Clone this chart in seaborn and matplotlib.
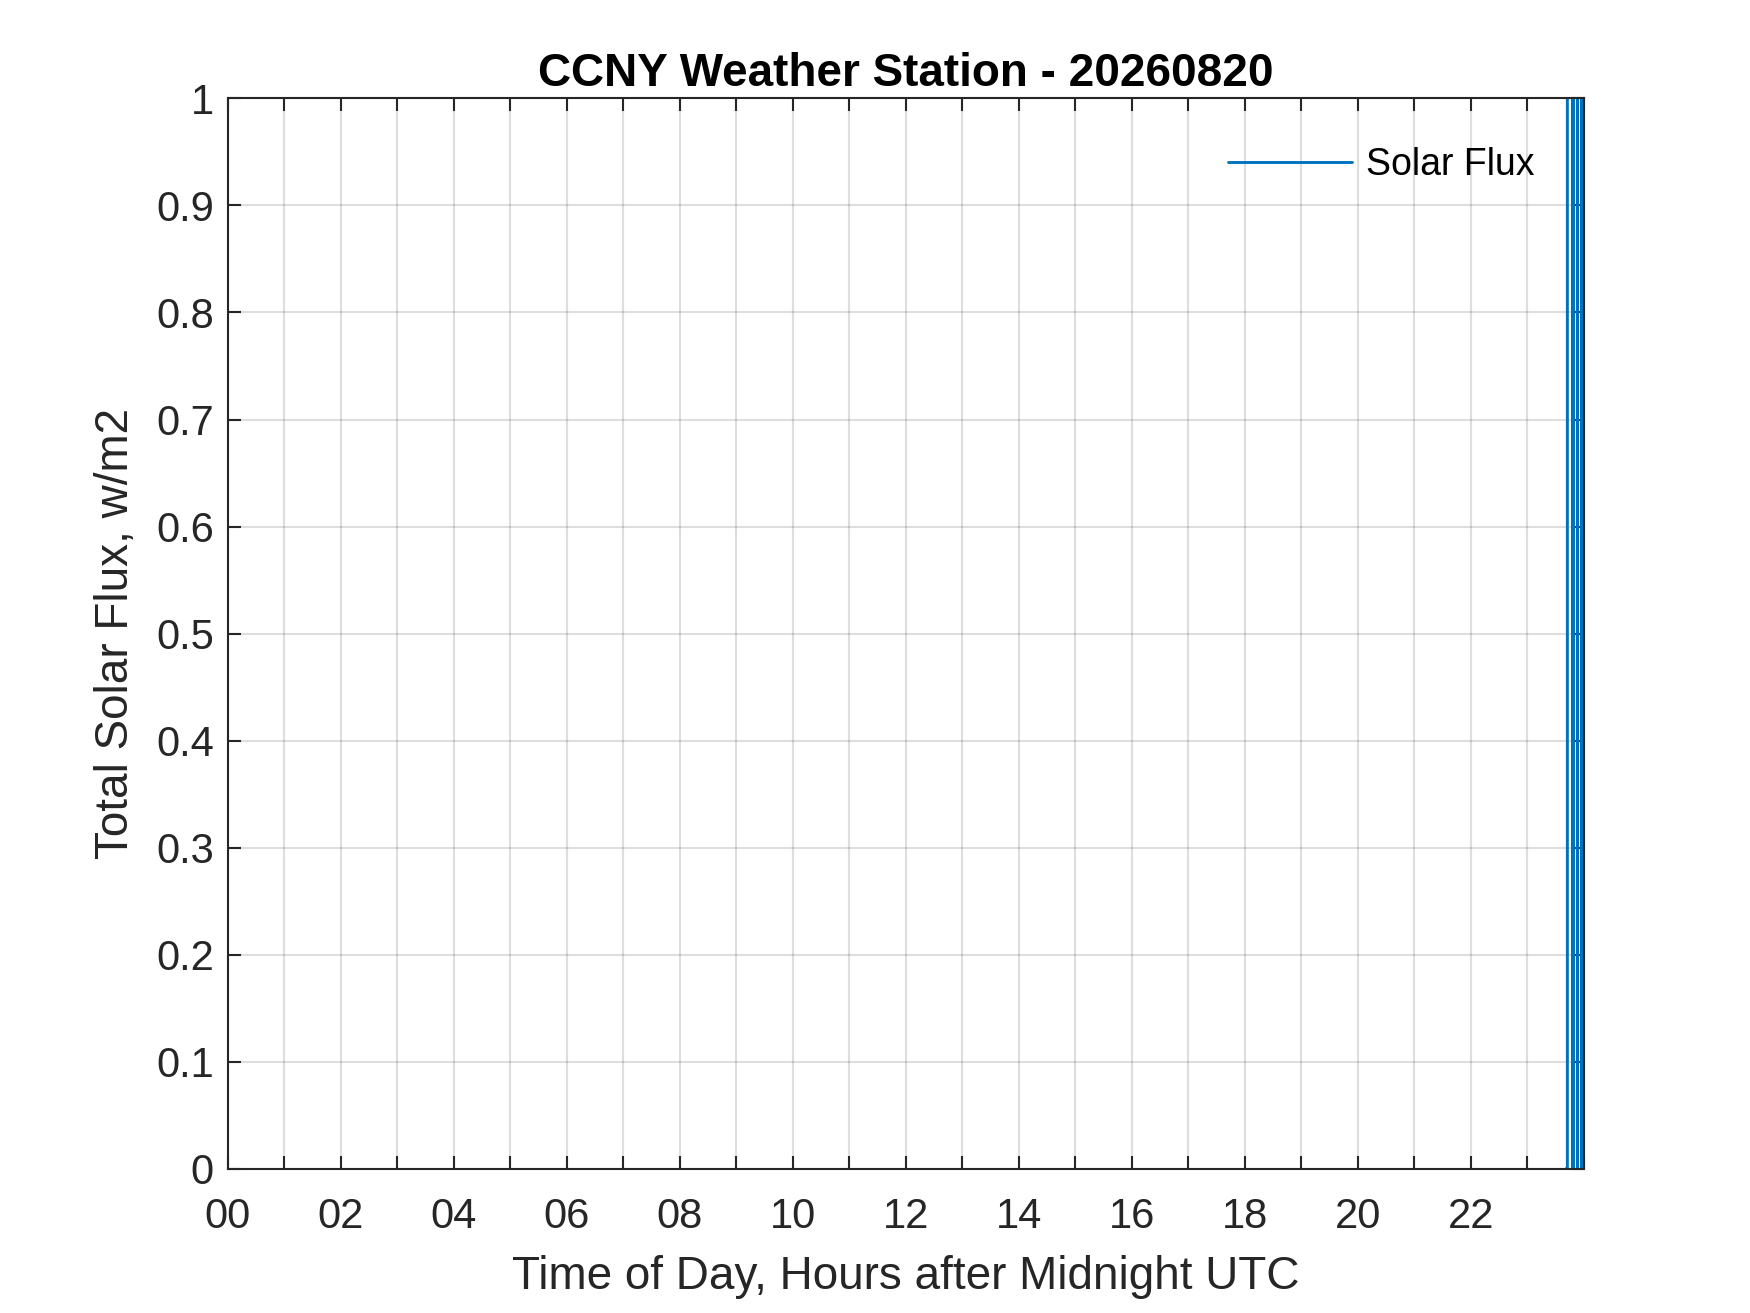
import numpy as np
import pandas as pd
import seaborn as sns
from matplotlib import pyplot as plt
from matplotlib.ticker import FixedLocator, FixedFormatter

# readings near the end of the day (hours after midnight UTC) and flux, w/m2
HOURS = [23.69, 23.71, 23.73, 23.80, 23.82, 23.84, 23.89, 23.93, 23.96, 23.99]
FLUX = [0.0, 0.0, 412.0, 0.0, 0.0, 398.0, 0.0, 405.0, 0.0, 390.0]

X_TICKS = list(range(0, 25))
X_LABELS = [f"{h:02d}" if h % 2 == 0 and h < 24 else "" for h in X_TICKS]
Y_TICKS = [round(0.1 * i, 1) for i in range(11)]
Y_LABELS = ["0"] + [f"{v:.1f}" for v in Y_TICKS[1:-1]] + ["1"]

TITLE = "CCNY Weather Station - 20260820"
XLABEL = "Time of Day, Hours after Midnight UTC"
YLABEL = "Total Solar Flux, w/m2"

AX_COLOR = "#262626"
LINE_COLOR = "#0072BD"


def main() -> None:
    sns.set_theme(style="white")
    plt.rcParams["font.family"] = ["Liberation Sans", "DejaVu Sans"]

    df = pd.DataFrame({"hour": HOURS, "flux": FLUX, "series": "Solar Flux"})

    fig = plt.figure(figsize=(1750 / 300, 1313 / 300), dpi=300)
    ax = fig.add_axes([0.13, 0.11, 0.775, 0.815])

    sns.lineplot(
        data=df, x="hour", y="flux", hue="series", palette=[LINE_COLOR],
        estimator=None, sort=False, linewidth=0.7, ax=ax,
    )

    ax.set_xlim(0, 24)
    ax.set_ylim(0, 1)
    ax.xaxis.set_major_locator(FixedLocator(X_TICKS))
    ax.xaxis.set_major_formatter(FixedFormatter(X_LABELS))
    ax.yaxis.set_major_locator(FixedLocator(Y_TICKS))
    ax.yaxis.set_major_formatter(FixedFormatter(Y_LABELS))

    ax.tick_params(direction="in", length=3.2, width=0.5, color=AX_COLOR,
                   labelcolor=AX_COLOR, labelsize=10, top=True, right=True,
                   bottom=True, left=True)
    ax.tick_params(axis="x", pad=6.8)
    ax.tick_params(axis="y", pad=3.3)
    for spine in ax.spines.values():
        spine.set_color(AX_COLOR)
        spine.set_linewidth(0.5)

    ax.grid(True, color=(0.15, 0.15, 0.15), alpha=0.15, linewidth=0.5)
    ax.set_axisbelow(True)

    ax.set_title(TITLE, fontsize=11, fontweight="bold", color="black", pad=3)
    ax.set_xlabel(XLABEL, fontsize=11, color=AX_COLOR, labelpad=4.4)
    ax.set_ylabel(YLABEL, fontsize=11, color=AX_COLOR, labelpad=4.3)

    ax.legend(loc="upper right", frameon=False, fontsize=9, handlelength=3.3,
              handletextpad=0.4, borderaxespad=0.9, labelcolor="black")

    fig.savefig("out.png", dpi=300)
    plt.close(fig)


if __name__ == "__main__":
    main()
